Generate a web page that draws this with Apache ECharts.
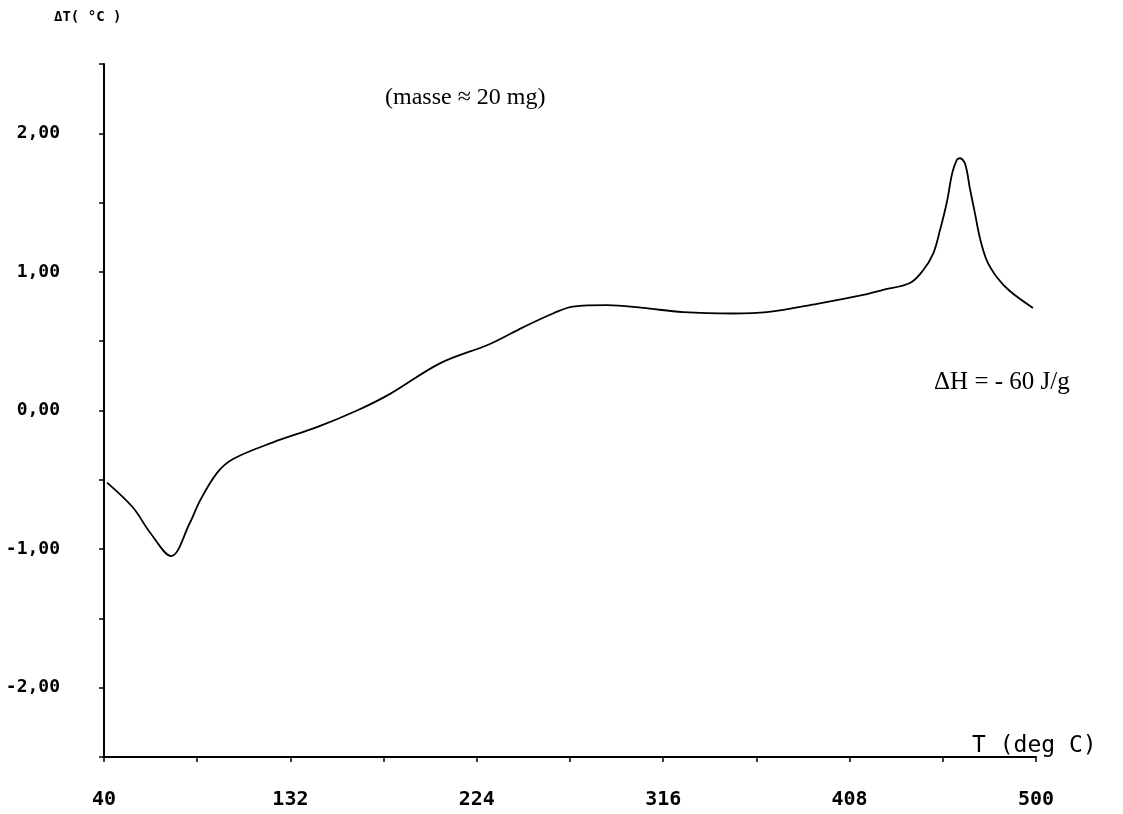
<!DOCTYPE html>
<html>
<head>
<meta charset="utf-8">
<script src="https://cdn.jsdelivr.net/npm/echarts@6/dist/echarts.min.js"></script>
<style>html,body{margin:0;padding:0;background:#fff}#c{width:1123px;height:814px}</style>
</head>
<body>
<div id="c"></div>
<script>
// Data
const temps = [41.5, 54.3, 62.7, 73.1, 82.4, 87.4, 95.8, 103.7, 123.4, 145.1, 164.9, 181.2, 205.8, 230.5, 246.8, 261.6, 271.5, 288.3, 306, 325.8, 350.5, 367.2, 391.9, 416.6, 424.5, 437.8, 444.2, 449.2, 452.6, 456.1, 458.6, 461.0, 462.5, 465.0, 467.4, 469.9, 472.4, 475.8, 480.8, 487.2, 498.5];
const deltaT = [-0.52, -0.70, -0.88, -1.05, -0.81, -0.65, -0.45, -0.35, -0.23, -0.12, 0.0, 0.12, 0.34, 0.48, 0.60, 0.70, 0.75, 0.76, 0.74, 0.71, 0.70, 0.71, 0.77, 0.84, 0.87, 0.92, 1.01, 1.13, 1.30, 1.51, 1.71, 1.81, 1.82, 1.78, 1.60, 1.42, 1.24, 1.08, 0.96, 0.86, 0.74];
const xTickLabels = [40, 132, 224, 316, 408, 500];
const yTickLabels = [2, 1, 0, -1, -2];
const yTitle = 'ΔT( °C )';
const xTitle = 'T (deg C)';
const noteMass = '(masse ≈ 20 mg)';
const noteEnthalpy = 'ΔH = - 60 J/g';

const chart = echarts.init(document.getElementById('c'));
const mono = '"DejaVu Sans Mono", monospace';
chart.setOption({
  backgroundColor: '#fff',
  animation: false,
  grid: {left: 104, right: 87, top: 64, bottom: 57},
  xAxis: {
    type: 'value', min: 40, max: 500, interval: 46,
    axisLine: {onZero: false, lineStyle: {color: '#000', width: 2}},
    axisTick: {show: true, length: 5, lineStyle: {color: '#000', width: 1.5}},
    splitLine: {show: false},
    axisLabel: {
      margin: 33, color: '#000', fontFamily: mono, fontWeight: 'bold', fontSize: 20,
      formatter: v => xTickLabels.some(t => Math.abs(t - v) < 1e-6) ? String(Math.round(v)) : ''
    }
  },
  yAxis: {
    type: 'value', min: -2.5, max: 2.5, interval: 0.5,
    axisLine: {onZero: false, lineStyle: {color: '#000', width: 2}},
    axisTick: {show: true, length: 5, lineStyle: {color: '#000', width: 1.5}},
    splitLine: {show: false},
    axisLabel: {
      margin: 44, color: '#000', fontFamily: mono, fontWeight: 'bold', fontSize: 18,
      formatter: v => yTickLabels.some(t => Math.abs(t - v) < 1e-6) ? v.toFixed(2).replace('.', ',') : ''
    }
  },
  series: [{
    type: 'line', smooth: 0.35, showSymbol: false,
    lineStyle: {color: '#000', width: 1.8},
    data: temps.map((t, i) => [t, deltaT[i]])
  }],
  graphic: [
    {type: 'text', left: 54, top: 10, style: {text: yTitle, font: 'bold 14px ' + mono, fill: '#000'}},
    {type: 'text', left: 972, top: 735, style: {text: xTitle, font: '23px ' + mono, fill: '#000'}},
    {type: 'text', left: 385, top: 86, style: {text: noteMass, font: '24px "Liberation Serif", serif', fill: '#000'}},
    {type: 'text', left: 934, top: 370, style: {text: noteEnthalpy, font: '25px "Liberation Serif", serif', fill: '#000'}}
  ]
});
</script>
</body>
</html>
